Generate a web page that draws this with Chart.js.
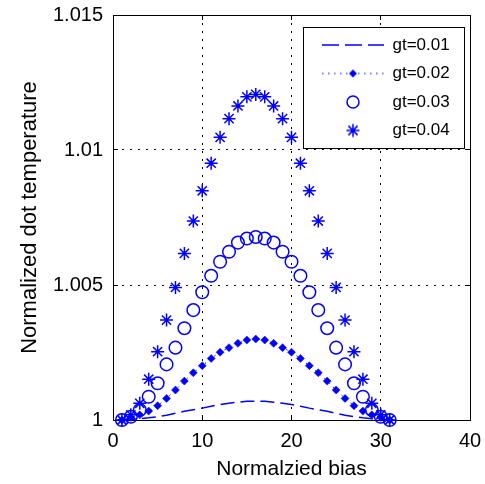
<!DOCTYPE html>
<html>
<head>
<meta charset="utf-8">
<script src="https://cdn.jsdelivr.net/npm/chart.js@4.4.1/dist/chart.umd.min.js"></script>
<style>
  html, body { margin: 0; padding: 0; background: #fff; }
  #wrap { width: 485px; height: 484px; }
</style>
</head>
<body>
<div id="wrap"><canvas id="c" width="485" height="484"></canvas></div>
<script>
// ---- data ----
const xValues = [1, 2, 3, 4, 5, 6, 7, 8, 9, 10, 11, 12, 13, 14, 15, 16,
                 17, 18, 19, 20, 21, 22, 23, 24, 25, 26, 27, 28, 29, 30, 31];
const gt001 = [1.00000, 1.00002, 1.00005, 1.00008, 1.00012, 1.00018, 1.00025, 1.00032,
               1.00038, 1.00044, 1.00051, 1.00057, 1.00062, 1.00066, 1.00069, 1.00070,
               1.00069, 1.00066, 1.00062, 1.00057, 1.00051, 1.00044, 1.00038, 1.00032,
               1.00025, 1.00018, 1.00012, 1.00008, 1.00005, 1.00002, 1.00000];
const gt002 = [1.00000, 1.00010, 1.00019, 1.00033, 1.00053, 1.00080, 1.00111, 1.00144,
               1.00175, 1.00201, 1.00228, 1.00251, 1.00268, 1.00284, 1.00296, 1.00300,
               1.00296, 1.00284, 1.00268, 1.00251, 1.00228, 1.00201, 1.00175, 1.00144,
               1.00111, 1.00080, 1.00053, 1.00033, 1.00019, 1.00010, 1.00000];
const gt003 = [1.00000, 1.00012, 1.00037, 1.00086, 1.00136, 1.00206, 1.00268, 1.00340,
               1.00407, 1.00473, 1.00534, 1.00586, 1.00623, 1.00657, 1.00672, 1.00678,
               1.00672, 1.00657, 1.00623, 1.00586, 1.00534, 1.00473, 1.00407, 1.00340,
               1.00268, 1.00206, 1.00136, 1.00086, 1.00037, 1.00012, 1.00000];
const gt004 = [1.00000, 1.00019, 1.00062, 1.00151, 1.00253, 1.00370, 1.00491, 1.00617,
               1.00737, 1.00849, 1.00951, 1.01047, 1.01116, 1.01163, 1.01197, 1.01206,
               1.01197, 1.01163, 1.01116, 1.01047, 1.00951, 1.00849, 1.00737, 1.00617,
               1.00491, 1.00370, 1.00253, 1.00151, 1.00062, 1.00019, 1.00000];
const seriesNames = ['gt=0.01', 'gt=0.02', 'gt=0.03', 'gt=0.04'];
const xTicks = [0, 10, 20, 30, 40];
const xTickLabels = ['0', '10', '20', '30', '40'];
const yTicks = [1, 1.005, 1.01, 1.015];
const yTickLabels = ['1', '1.005', '1.01', '1.015'];
const xTitle = 'Normalzied bias';
const yTitle = 'Normalized dot temperature';

// ---- styling ----
const BLUE = '#0000ff';
const FONT = "'Liberation Sans', Arial, Helvetica, sans-serif";

function pts(ys) { return xValues.map((x, i) => ({ x: x, y: ys[i] })); }

// legend sample glyphs
function sample(kind) {
  const c = document.createElement('canvas');
  c.width = 62; c.height = 18;
  const g = c.getContext('2d');
  g.strokeStyle = BLUE; g.fillStyle = BLUE;
  const cy = 9, cx = 31;
  if (kind === 0) {
    g.lineWidth = 1.5; g.setLineDash([17, 6]);
    g.beginPath(); g.moveTo(0, cy); g.lineTo(62, cy); g.stroke();
  } else if (kind === 1) {
    g.lineWidth = 1.2; g.setLineDash([1.5, 4.5]);
    g.beginPath(); g.moveTo(0, cy); g.lineTo(62, cy); g.stroke();
    g.setLineDash([]);
    g.beginPath(); g.moveTo(cx, cy - 4); g.lineTo(cx + 4, cy); g.lineTo(cx, cy + 4); g.lineTo(cx - 4, cy); g.closePath(); g.fill();
  } else if (kind === 2) {
    g.lineWidth = 1.5;
    g.beginPath(); g.arc(cx, cy, 6, 0, Math.PI * 2); g.stroke();
  } else {
    g.lineWidth = 1.5;
    const r = 6.5, d = r * Math.SQRT1_2;
    g.beginPath();
    g.moveTo(cx - r, cy); g.lineTo(cx + r, cy);
    g.moveTo(cx, cy - r); g.lineTo(cx, cy + r);
    g.moveTo(cx - d, cy - d); g.lineTo(cx + d, cy + d);
    g.moveTo(cx - d, cy + d); g.lineTo(cx + d, cy - d);
    g.stroke();
  }
  return c;
}
const legendGlyphs = [sample(0), sample(1), sample(2), sample(3)];

// legend placement and framed white box
const legendPlugin = {
  id: 'legendFrame',
  afterLayout(chart) {
    const lg = chart.legend;
    if (!lg) return;
    const w = lg.width, h = lg.height;
    lg.left = 310.5; lg.top = 25; lg.right = lg.left + w; lg.bottom = lg.top + h;
    if (!lg._framed) {
      const orig = lg.draw;
      lg.draw = function (area) {
        const ctx = chart.ctx;
        ctx.save();
        ctx.fillStyle = '#ffffff';
        ctx.fillRect(303, 27, 161, 121);
        ctx.strokeStyle = '#000000';
        ctx.lineWidth = 1;
        ctx.strokeRect(303.5, 27.5, 161, 121);
        ctx.restore();
        orig.call(this, area);
      };
      lg._framed = true;
    }
  }
};

const gridCommon = {
  color: '#000000',
  lineWidth: 1,
  tickLength: -5,
  tickColor: '#000000',
  tickWidth: 1,
  tickBorderDash: []
};

new Chart(document.getElementById('c'), {
  type: 'scatter',
  data: {
    datasets: [
      {
        label: seriesNames[0], data: pts(gt001), showLine: true,
        borderColor: BLUE, backgroundColor: BLUE, borderWidth: 1.5,
        borderDash: [14, 6], pointRadius: 0, clip: false, order: 4
      },
      {
        label: seriesNames[1], data: pts(gt002), showLine: true,
        borderColor: BLUE, backgroundColor: BLUE, borderWidth: 1,
        borderDash: [1.5, 4.5], pointStyle: 'rectRot', pointRadius: 4,
        pointBorderWidth: 0.5, clip: false, order: 3
      },
      {
        label: seriesNames[2], data: pts(gt003), showLine: false,
        borderColor: BLUE, backgroundColor: 'rgba(0,0,0,0)',
        pointStyle: 'circle', pointRadius: 6.3, pointBorderWidth: 1.5, clip: false, order: 2
      },
      {
        label: seriesNames[3], data: pts(gt004), showLine: false,
        borderColor: BLUE, backgroundColor: BLUE,
        pointStyle: 'star', pointRadius: 6.5, pointBorderWidth: 1.5, clip: false, order: 1
      }
    ]
  },
  options: {
    responsive: false,
    animation: false,
    events: [],
    layout: { padding: { left: 0, top: 15, right: 15, bottom: 0 } },
    scales: {
      x: {
        type: 'linear', position: 'bottom', min: 0, max: 40,
        afterBuildTicks: (s) => { s.ticks = xTicks.map(v => ({ value: v })); },
        afterFit: (s) => { s.height = 64; s.paddingLeft = 0; s.paddingRight = 0; },
        ticks: {
          color: '#000', font: { family: FONT, size: 20 }, padding: 14,
          maxRotation: 0, autoSkip: false,
          callback: (v) => xTickLabels[xTicks.indexOf(v)]
        },
        grid: Object.assign({}, gridCommon),
        border: { display: true, color: '#000', width: 1, dash: [2, 6] },
        title: {
          display: true, text: xTitle, color: '#000',
          font: { family: FONT, size: 21 }, padding: { top: 0, bottom: 2 }
        }
      },
      y: {
        type: 'linear', position: 'left', min: 1, max: 1.015,
        afterBuildTicks: (s) => { s.ticks = yTicks.map(v => ({ value: v })); },
        afterFit: (s) => { s.width = 113; s.paddingTop = 0; s.paddingBottom = 0; },
        ticks: {
          color: '#000', font: { family: FONT, size: 20 }, padding: 15,
          callback: (v) => { const i = yTicks.findIndex(t => Math.abs(t - v) < 1e-9); return yTickLabels[i]; }
        },
        grid: Object.assign({}, gridCommon),
        border: { display: true, color: '#000', width: 1, dash: [2, 6] },
        title: {
          display: true, text: yTitle, color: '#000',
          font: { family: FONT, size: 22 }, padding: { top: 17, bottom: 0 }
        }
      },
      x2: {
        type: 'linear', position: 'top', min: 0, max: 40,
        afterBuildTicks: (s) => { s.ticks = xTicks.map(v => ({ value: v })); },
        afterFit: (s) => { s.height = 0; s.paddingLeft = 0; s.paddingRight = 0; },
        ticks: { display: false },
        grid: Object.assign({}, gridCommon, { drawOnChartArea: false }),
        border: { display: true, color: '#000', width: 1 }
      },
      y2: {
        type: 'linear', position: 'right', min: 1, max: 1.015,
        afterBuildTicks: (s) => { s.ticks = yTicks.map(v => ({ value: v })); },
        afterFit: (s) => { s.width = 0; s.paddingTop = 0; s.paddingBottom = 0; },
        ticks: { display: false },
        grid: Object.assign({}, gridCommon, { drawOnChartArea: false }),
        border: { display: true, color: '#000', width: 1 }
      }
    },
    plugins: {
      tooltip: { enabled: false },
      legend: {
        display: true,
        position: 'chartArea',
        align: 'start',
        labels: {
          usePointStyle: true,
          pointStyleWidth: 62,
          boxWidth: 62,
          padding: 11.5,
          color: '#000',
          font: { family: FONT, size: 17 },
          generateLabels: (chart) => chart.data.datasets.map((ds, i) => ({
            text: ds.label,
            pointStyle: legendGlyphs[i],
            fillStyle: BLUE,
            strokeStyle: BLUE,
            fontColor: '#000',
            lineWidth: 1,
            hidden: false,
            datasetIndex: i
          }))
        }
      }
    }
  },
  plugins: [legendPlugin]
});
</script>
</body>
</html>
